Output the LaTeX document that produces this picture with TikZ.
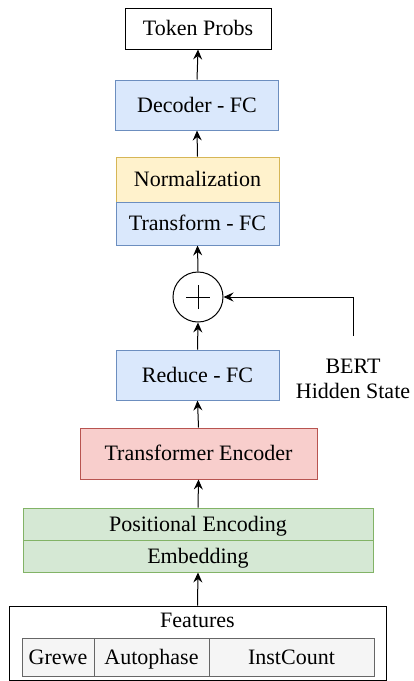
\documentclass[tikz,border=0pt]{standalone}
\usepackage{fontspec}
\setmainfont{Liberation Serif}
\usetikzlibrary{arrows.meta}
\definecolor{bluefill}{HTML}{DAE8FC}
\definecolor{bluedraw}{HTML}{6C8EBF}
\definecolor{yellowfill}{HTML}{FFF2CC}
\definecolor{yellowdraw}{HTML}{D6B656}
\definecolor{redfill}{HTML}{F8CECC}
\definecolor{reddraw}{HTML}{B85450}
\definecolor{greenfill}{HTML}{D5E8D4}
\definecolor{greendraw}{HTML}{82B366}
\definecolor{grayfill}{HTML}{F5F5F5}
\definecolor{graydraw}{HTML}{666666}
\tikzset{
  box/.style={draw, rectangle, line width=1pt, inner sep=0pt, text height=16pt, text depth=2pt},
  bluebox/.style={box, draw=bluedraw, fill=bluefill},
  yellowbox/.style={box, draw=yellowdraw, fill=yellowfill},
  redbox/.style={box, draw=reddraw, fill=redfill},
  greenbox/.style={box, draw=greendraw, fill=greenfill, minimum width=350pt, minimum height=32pt},
  graybox/.style={box, draw=graydraw, fill=grayfill, minimum height=38pt},
  arr/.style={draw, line width=1pt, -{Stealth[length=10pt,width=9pt,inset=3.5pt]}}
}
\begin{document}
\begin{tikzpicture}[x=1pt, y=-1pt, font=\fontsize{22}{25}\selectfont]
\useasboundingbox (0,0) rectangle (414,681);
\node[box, minimum width=146pt, minimum height=41pt] (tok) at (198,28.5) {Token Probs};
\node[bluebox, minimum width=163pt, minimum height=50pt] (dec) at (197,105) {Decoder - FC};
\node[yellowbox, minimum width=163pt, minimum height=45pt] (norm) at (197.5,179.5) {Normalization};
\node[bluebox, minimum width=163pt, minimum height=43pt] (tf) at (197.5,223.5) {Transform - FC};
\node[draw, circle, line width=1pt, minimum size=50pt, inner sep=0pt] (sum) at (198,297) {};
\draw[line width=1pt] ([xshift=-12pt]sum.center) -- ([xshift=12pt]sum.center);
\draw[line width=1pt] ([yshift=-12pt]sum.center) -- ([yshift=12pt]sum.center);
\node[bluebox, minimum width=163pt, minimum height=50pt] (red) at (197.5,375) {Reduce - FC};
\node[align=center] (bert) at (353,379) {BERT\\Hidden State};
\coordinate (bt) at (353,336);
\node[redbox, minimum width=237pt, minimum height=51pt] (enc) at (198.5,453.5) {Transformer Encoder};
\node[greenbox] (pos) at (198,524) {Positional Encoding};
\node[greenbox] (emb) at (198,556) {Embedding};
% features
\node[box, minimum width=377pt, minimum height=74pt] (feat) at (197.5,643) {};
\node[text height=16pt, text depth=2pt, inner sep=0pt] (ftxt) at (197.5,620) {Features};
\node[graybox, minimum width=72pt] (grewe) at (58,657) {Grewe};
\node[graybox, minimum width=115pt] (auto) at (151.5,657) {Autophase};
\node[graybox, minimum width=165pt] (inst) at (291.5,657) {InstCount};
% arrows
\path[arr] (feat.north) -- (emb.south);
\path[arr] (pos.north) -- (enc.south);
\path[arr] (enc.north) -- (red.south);
\path[arr] (red.north) -- (sum.south);
\path[arr] (sum.north) -- (tf.south);
\path[arr] (norm.north) -- (dec.south);
\path[arr] (dec.north) -- (tok.south);
\path[arr] (bt) |- (sum.east);
\end{tikzpicture}
\end{document}
